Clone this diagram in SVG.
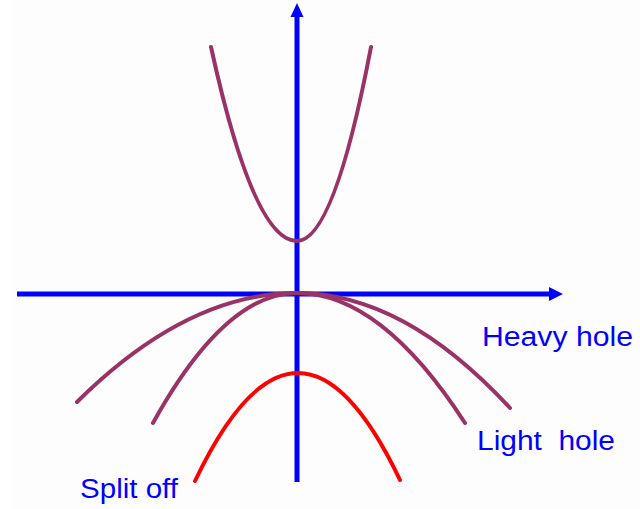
<svg xmlns="http://www.w3.org/2000/svg" width="640" height="509" viewBox="0 0 640 509">
  <style>
    .axis { stroke: #0000ff; stroke-width: 5; fill: none; }
    .band { stroke: #993366; stroke-width: 4; fill: none; stroke-linecap: round; }
    .so { stroke: #ff0000; stroke-width: 4; fill: none; stroke-linecap: round; }
    .lbl { font-family: "Liberation Sans", Arial, sans-serif; font-size: 27px; fill: #0000ff; }
  </style>
  <rect x="0" y="0" width="640" height="509" fill="#ffffff"/>
  <rect x="12" y="0" width="628" height="509" fill="#fdfdfe"/>
  <g id="axes">
    <line class="axis" x1="297" y1="482" x2="297" y2="14"/>
    <polygon points="297,3 290.5,17 303.5,17" fill="#0000ff"/>
    <line class="axis" x1="17" y1="294" x2="551" y2="294"/>
    <polygon points="563,294 549,287 549,301" fill="#0000ff"/>
  </g>
  <g id="conduction">
    <path class="band" d="M211,47 Q253.5,241 297,241 Q334,241 371,47"/>
  </g>
  <g id="heavy-hole">
    <path class="band" d="M77,402 Q187,293 297,293 Q404,293 510,408"/>
  </g>
  <g id="light-hole">
    <path class="band" d="M153,423 Q225,293 297,293 Q381,293 465,423"/>
  </g>
  <g id="split-off">
    <path class="so" d="M195,481 Q246.5,373 298,373 Q349,373 400,480"/>
  </g>
  <g id="labels">
    <text class="lbl" x="482" y="346" textLength="151" lengthAdjust="spacingAndGlyphs">Heavy hole</text>
    <text class="lbl" x="477" y="450" textLength="138" lengthAdjust="spacingAndGlyphs" xml:space="preserve">Light  hole</text>
    <text class="lbl" x="80" y="498" textLength="98" lengthAdjust="spacingAndGlyphs">Split off</text>
  </g>
</svg>
